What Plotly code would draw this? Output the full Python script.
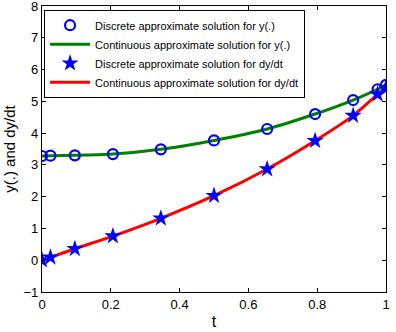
import plotly.graph_objects as go

t_nodes = [0.0, 0.0245, 0.0955, 0.2061, 0.3455, 0.5, 0.6545, 0.7939, 0.9045, 0.9755, 1.0]
y_vals = [3.28, 3.29, 3.30, 3.34, 3.49, 3.77, 4.13, 4.60, 5.04, 5.38, 5.52]
dy_vals = [0.0, 0.09, 0.36, 0.76, 1.32, 2.03, 2.87, 3.76, 4.55, 5.22, 5.42]

x_ticks = [0, 0.2, 0.4, 0.6, 0.8, 1]
x_ticklabels = ["0", "0.2", "0.4", "0.6", "0.8", "1"]
y_ticks = [-1, 0, 1, 2, 3, 4, 5, 6, 7, 8]

names = [
    "Discrete approximate solution for y(.)",
    "Continuous approximate solution for y(.)",
    "Discrete approximate solution for dy/dt",
    "Continuous approximate solution for dy/dt",
]

fig = go.Figure()
fig.add_trace(go.Scatter(x=t_nodes, y=y_vals, mode="lines",
                         line=dict(color="rgb(0,128,0)", width=3, shape="spline", smoothing=0.7),
                         name=names[1], showlegend=False))
fig.add_trace(go.Scatter(x=t_nodes, y=dy_vals, mode="lines",
                         line=dict(color="rgb(255,0,0)", width=3, shape="spline", smoothing=0.7),
                         name=names[3], showlegend=False))
fig.add_trace(go.Scatter(x=t_nodes, y=y_vals, mode="markers",
                         marker=dict(symbol="circle-open", size=10, color="rgb(0,0,255)",
                                     line=dict(width=2.2, color="rgb(0,0,255)")),
                         name=names[0]))
fig.add_trace(go.Scatter(x=[None], y=[None], mode="lines", line=dict(color="rgb(0,128,0)", width=3), name=names[1]))
fig.add_trace(go.Scatter(x=t_nodes, y=dy_vals, mode="markers",
                         marker=dict(symbol="star", size=13, color="rgb(0,0,255)", line=dict(width=0)),
                         name=names[2]))
fig.add_trace(go.Scatter(x=[None], y=[None], mode="lines", line=dict(color="rgb(255,0,0)", width=3), name=names[3]))

axis_common = dict(showline=True, linecolor="black", linewidth=1.2, mirror="ticks", ticks="inside", ticklen=4,
                   tickcolor="black", showgrid=False, zeroline=False, ticklabeloverflow="allow",
                   automargin=False,
                   tickfont=dict(family="Liberation Sans, Arial", size=13, color="black"))

fig.update_layout(
    width=396, height=332,
    margin=dict(l=42, r=10, t=6, b=40),
    paper_bgcolor="white", plot_bgcolor="white",
    font=dict(family="Liberation Sans, Arial", size=12, color="black"),
    xaxis=dict(range=[0, 1], tickvals=x_ticks, ticktext=x_ticklabels,
               title=dict(text="t", font=dict(size=16), standoff=5), **axis_common),
    yaxis=dict(range=[-1, 8], tickvals=y_ticks,
               title=dict(text="y(.) and dy/dt", font=dict(size=15), standoff=4), **axis_common),
    legend=dict(x=0.006, y=0.987, xanchor="left", yanchor="top", bgcolor="white", bordercolor="black",
                borderwidth=1, font=dict(size=11, family="Liberation Sans, Arial"), itemwidth=40,
                tracegroupgap=0),
)

fig.write_html("out.html")
